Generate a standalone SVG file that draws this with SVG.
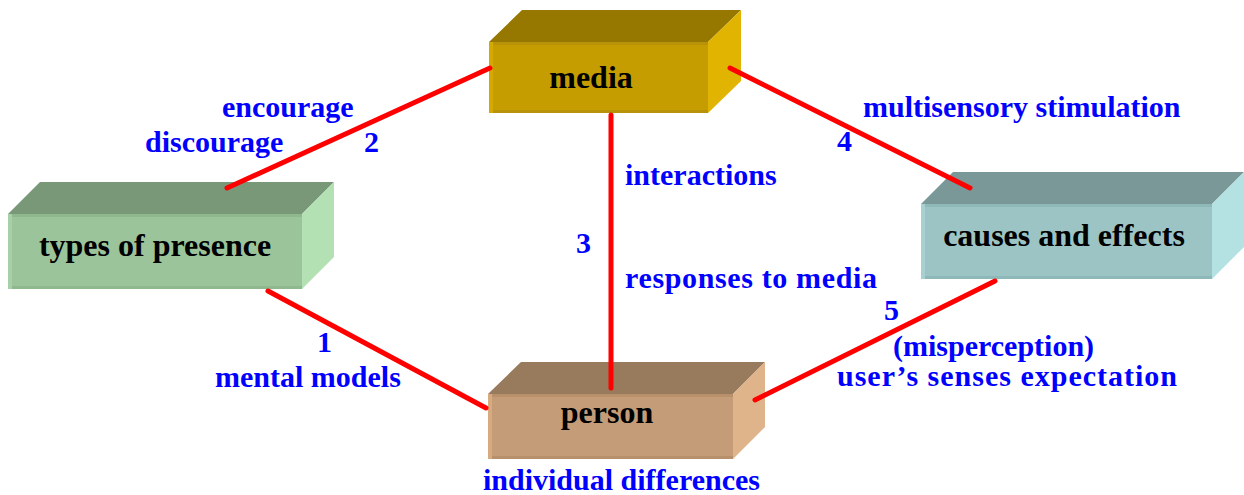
<svg xmlns="http://www.w3.org/2000/svg" width="1244" height="495" viewBox="0 0 1244 495">
  <style>
    .name { font-family: "Liberation Serif", "Times New Roman", Times, "DejaVu Serif", serif; font-weight: bold; font-size: 32px; fill: #000; text-anchor: middle; }
    .lbl { font-family: "Liberation Serif", "Times New Roman", Times, "DejaVu Serif", serif; font-weight: bold; font-size: 30px; fill: #0000ff; }
    .link { stroke: #ff0000; stroke-width: 5; stroke-linecap: round; fill: none; }
  </style>

  <!-- media -->
  <g id="media">
    <polygon points="489,42 522,10 741,10 708,42" fill="#967800"/>
    <polygon points="708,42 741,10 741,81 708,113" fill="#e0b400"/>
    <rect x="489" y="42" width="219" height="71" fill="#b8930a"/>
    <rect x="489" y="45" width="219" height="65" fill="#c59d00"/>
    <rect x="489" y="42" width="4" height="71" fill="#d4aa00"/>
    <text class="name" x="591" y="88">media</text>
  </g>

  <!-- types of presence -->
  <g id="types">
    <polygon points="8,214 40,182 334,182 302,214" fill="#789878"/>
    <polygon points="302,214 334,182 334,257 302,289" fill="#b3e1b3"/>
    <rect x="8" y="214" width="294" height="75" fill="#8fb88f"/>
    <rect x="8" y="217" width="294" height="69" fill="#9bc49b"/>
    <rect x="8" y="214" width="4" height="75" fill="#a8d0a8"/>
    <text class="name" x="155" y="256">types of presence</text>
  </g>

  <!-- causes and effects -->
  <g id="causes">
    <polygon points="921,204 953,172 1244,172 1212,204" fill="#7a9898"/>
    <polygon points="1212,204 1244,172 1244,247 1212,279" fill="#b4e2e2"/>
    <rect x="921" y="204" width="291" height="75" fill="#8fb8b8"/>
    <rect x="921" y="207" width="291" height="69" fill="#9cc4c4"/>
    <rect x="921" y="204" width="4" height="75" fill="#a8d0d0"/>
    <text class="name" x="1064" y="246">causes and effects</text>
  </g>

  <!-- person -->
  <g id="person">
    <polygon points="488,394 521,362 765,362 733,394" fill="#987a5c"/>
    <polygon points="733,394 765,362 765,427 733,459" fill="#e0b48a"/>
    <rect x="488" y="394" width="245" height="65" fill="#b8906c"/>
    <rect x="488" y="397" width="245" height="59" fill="#c49c78"/>
    <rect x="488" y="394" width="4" height="65" fill="#d8aa80"/>
    <text class="name" x="607" y="423">person</text>
  </g>

  <!-- connectors -->
  <g id="connectors">
    <line class="link" x1="490" y1="68" x2="227" y2="188"/>
    <line class="link" x1="730" y1="68" x2="970" y2="188"/>
    <line class="link" x1="611" y1="115" x2="611" y2="388"/>
    <line class="link" x1="268" y1="291" x2="486" y2="408"/>
    <line class="link" x1="995" y1="281" x2="755" y2="400"/>
  </g>

  <!-- connector labels -->
  <g id="labels">
    <text class="lbl" x="222" y="117">encourage</text>
    <text class="lbl" x="145" y="152">discourage</text>
    <text class="lbl" x="364" y="152">2</text>
    <text class="lbl" x="863" y="117">multisensory stimulation</text>
    <text class="lbl" x="837" y="151">4</text>
    <text class="lbl" x="625" y="185">interactions</text>
    <text class="lbl" x="576" y="253">3</text>
    <text class="lbl" x="625" y="288" textLength="252">responses to media</text>
    <text class="lbl" x="317" y="352">1</text>
    <text class="lbl" x="215" y="387">mental models</text>
    <text class="lbl" x="884" y="320">5</text>
    <text class="lbl" x="893" y="356">(misperception)</text>
    <text class="lbl" x="837" y="386" textLength="340">user’s senses expectation</text>
    <text class="lbl" x="483" y="490">individual differences</text>
  </g>
</svg>
